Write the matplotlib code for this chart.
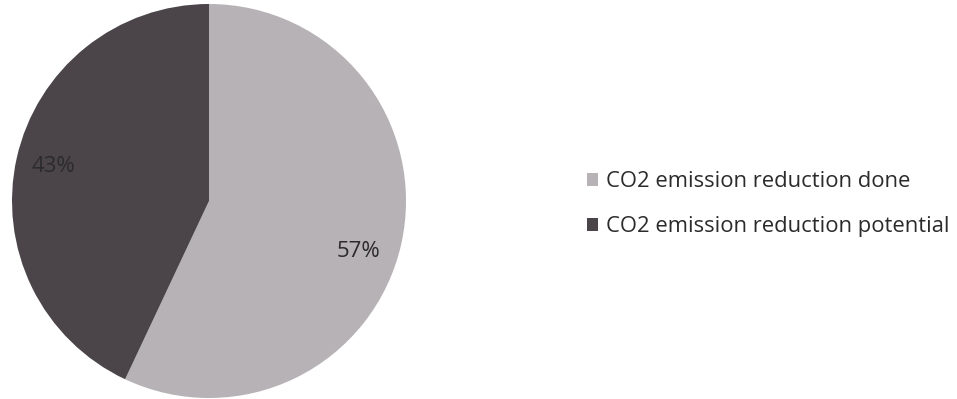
import matplotlib
matplotlib.use("Agg")
import matplotlib.pyplot as plt

categories = ["CO2 emission reduction done", "CO2 emission reduction potential"]
values = [57, 43]
colors = ["#b7b2b5", "#4b4549"]

plt.rcParams['font.family'] = ['Open Sans', 'DejaVu Sans']

fig = plt.figure(figsize=(9.57, 3.99), dpi=100)
fig.patch.set_facecolor("white")
ax = fig.add_axes([12/957, 1/399, 394/957, 394/399])
wedges, texts, autotexts = ax.pie(
    values, colors=colors, startangle=90, counterclock=False,
    autopct=lambda p: f"{p:.0f}%", pctdistance=0.81,
    wedgeprops=dict(linewidth=0), radius=1.0,
    textprops=dict(fontsize=16, color="#2b2b2b"))
# nudge the 57% label slightly lower, as in the reference
x0, y0 = autotexts[0].get_position()
autotexts[0].set_position((x0 - 0.03, y0 - 0.08))
ax.set_xlim(-1.0, 1.0)
ax.set_ylim(-1.0, 1.0)
ax.set_aspect("equal")

fig.legend(wedges, categories, loc="center left",
           bbox_to_anchor=(587/957, 1 - 204/399), frameon=False,
           fontsize=15.8, handlelength=0.52, handleheight=0.52,
           handletextpad=0.33, labelspacing=1.1, borderpad=0,
           borderaxespad=0, labelcolor="#2b2b2b")

fig.savefig("out.png", dpi=100, facecolor="white")
